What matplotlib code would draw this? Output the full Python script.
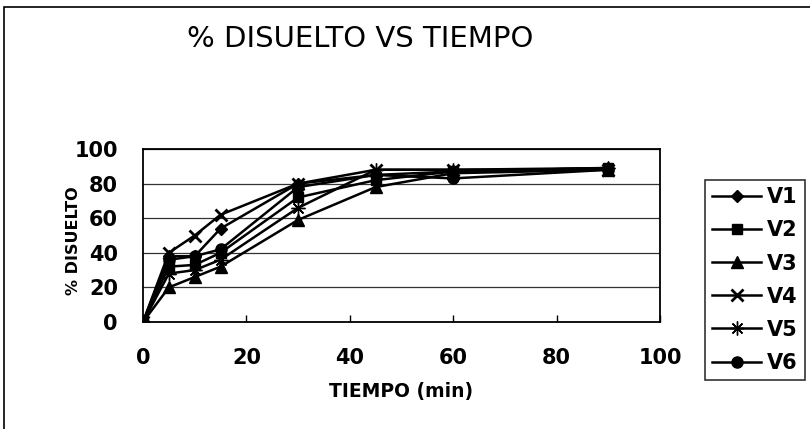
import matplotlib.pyplot as plt
from matplotlib.patches import Rectangle

# tiempos de muestreo (min) y % disuelto de cada vaso
tiempo = [0, 5, 10, 15, 30, 45, 60, 90]
v1 = [0, 38, 38, 54, 80, 85, 87, 89]
v2 = [0, 32, 33, 40, 72, 82, 87, 89]
v3 = [0, 20, 26, 32, 59, 78, 86, 88]
v4 = [0, 40, 50, 62, 80, 88, 88, 88]
v5 = [0, 28, 30, 36, 66, 88, 88, 89]
v6 = [0, 36, 38, 42, 78, 85, 83, 88]

series = [("V1", v1, "D", 6), ("V2", v2, "s", 7), ("V3", v3, "^", 8),
          ("V4", v4, "x", 9), ("V5", v5, (8, 2, 0), 10), ("V6", v6, "o", 8)]

plt.rcParams['font.family'] = ['DejaVu Sans']

fig = plt.figure(figsize=(8.10, 4.29), dpi=100)
# marco exterior del grafico
fig.patches.append(Rectangle((4 / 810, -0.05), 1.1, 1 - 7 / 429 + 0.05,
                             transform=fig.transFigure, fill=False,
                             edgecolor="black", linewidth=1.2))

ax = fig.add_axes([143 / 810, 1 - 322 / 429, 517 / 810, 173 / 429])
for name, vals, mk, ms in series:
    ax.plot(tiempo, vals, color="black", linewidth=1.8, marker=mk,
            markersize=ms, markeredgewidth=2 if mk == "x" else 1, label=name)

ax.set_xlim(0, 100)
ax.set_ylim(0, 100)
ax.set_xticks(range(0, 101, 20))
ax.set_yticks(range(0, 101, 20))
ax.yaxis.grid(True, color="#333333", linewidth=0.9)
ax.set_axisbelow(True)
ax.tick_params(axis="x", direction="in", length=5, width=1, pad=19, labelsize=15)
ax.tick_params(axis="y", length=0, pad=18, labelsize=15)
for lbl in ax.get_xticklabels() + ax.get_yticklabels():
    lbl.set_fontweight("bold")
for sp in ax.spines.values():
    sp.set_linewidth(1.3)

ax.set_xlabel("TIEMPO (min)", fontsize=13.5, fontweight="bold")
ax.xaxis.set_label_coords(0.5, -(392 - 322) / 173)
ax.set_ylabel("% DISUELTO", fontsize=11.5, fontweight="bold")
ax.yaxis.set_label_coords(-(143 - 74) / 517, 0.47)
ax.yaxis.label.set_va("center")
ax.xaxis.label.set_va("center")

fig.text(360 / 810, 1 - 39 / 429, "% DISUELTO VS TIEMPO", fontsize=21,
         ha="center", va="center")

leg = fig.legend(loc="upper left", bbox_to_anchor=(705 / 810, 1 - 180 / 429),
                 frameon=True, fancybox=False, edgecolor="black",
                 prop={"weight": "bold", "size": 15}, handlelength=2.35,
                 labelspacing=0.63, borderpad=0.35, handletextpad=0.25,
                 borderaxespad=0)
leg.get_frame().set_linewidth(1.2)

fig.savefig("out.png", dpi=100)
